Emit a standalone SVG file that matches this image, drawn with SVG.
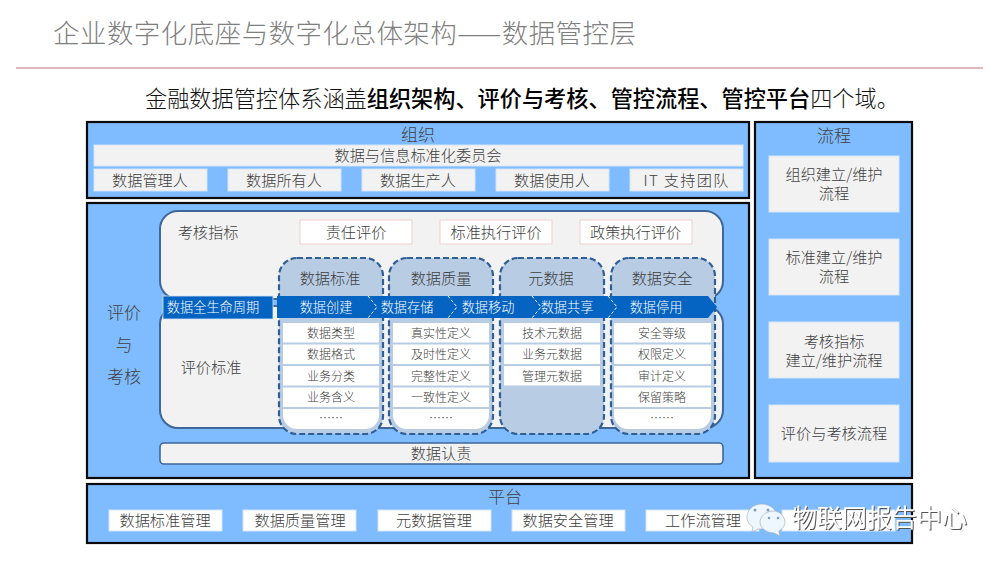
<svg xmlns="http://www.w3.org/2000/svg" width="1000" height="562" viewBox="0 0 1000 562">
<style>
text{font-family:"Noto Sans CJK SC","Noto Sans",sans-serif;text-anchor:middle;dominant-baseline:central;fill:#404040;font-weight:300}
.outer{fill:#7fbcff;stroke:#0a0a0a;stroke-width:2.2}
.bar{fill:#f2f2f2;stroke:#d4e4f7;stroke-width:1}
.panel{fill:#f2f2f2;stroke:#3f6797;stroke-width:2}
.col{fill:#b8cce4;stroke:#2f5f95;stroke-width:2.2;stroke-dasharray:6 3}
.crit{fill:#fff;stroke:#f1d5d5;stroke-width:1.2}
.cell{fill:#fff}
.plat{fill:#fff;stroke:#d4e4f7;stroke-width:1}
.s15{font-size:17px}.s14{font-size:15.200px}.s13{font-size:13.200px}.s12{font-size:12px}
.w{fill:#fff}
.chev{fill:none;stroke:#fff;stroke-width:1;stroke-dasharray:3 2}
.mark{font-size:25px;fill:#fff;font-weight:400;filter:drop-shadow(1px 1px 0 #555)}
</style>
<g id="title">
<text x="53" y="31.500" style="text-anchor:start;font-size:26.5px;fill:#7f7f7f" textLength="583" lengthAdjust="spacing">企业数字化底座与数字化总体架构——数据管控层</text>
<line x1="16" y1="68" x2="983" y2="68" stroke="#d8a0a6" stroke-width="1.6"/>
</g>
<g id="subtitle">
<text x="145" y="96.500" style="text-anchor:start;font-size:22.180px;fill:#111">金融数据管控体系涵盖<tspan style="font-weight:500;fill:#000">组织架构、评价与考核、管控流程、管控平台</tspan>四个域。</text>
</g>
<g id="org">
<rect class="outer" x="87" y="122" width="662" height="76"/>
<text class="s15" x="418" y="133">组织</text>
<rect class="bar" x="94" y="145" width="649" height="21"/>
<text class="s14" x="418" y="154">数据与信息标准化委员会</text>
<rect class="bar" x="94" y="169" width="113" height="22"/><text class="s14" x="150" y="179">数据管理人</text>
<rect class="bar" x="228" y="169" width="113" height="22"/><text class="s14" x="284" y="179">数据所有人</text>
<rect class="bar" x="362" y="169" width="113" height="22"/><text class="s14" x="418" y="179">数据生产人</text>
<rect class="bar" x="496" y="169" width="113" height="22"/><text class="s14" x="552" y="179">数据使用人</text>
<rect class="bar" x="630" y="169" width="113" height="22"/><text class="s14" x="686" y="179" textLength="85" lengthAdjust="spacing">IT 支持团队</text>
</g>
<g id="evaluation">
<rect class="outer" x="87" y="203" width="662" height="275"/>
<text x="124" y="311" style="font-size:17px">评价</text>
<text x="124" y="343" style="font-size:17px">与</text>
<text x="124" y="375" style="font-size:17px">考核</text>
<rect class="panel" x="160" y="211" width="563" height="88" rx="18"/>
<rect class="panel" x="160" y="306" width="563" height="122" rx="18"/>
<text class="s14" x="208" y="231">考核指标</text>
<text class="s14" x="211" y="366">评价标准</text>
<rect class="crit" x="300" y="220" width="112" height="24"/><text class="s14" x="356" y="231">责任评价</text>
<rect class="crit" x="440" y="220" width="112" height="24"/><text class="s14" x="496" y="231">标准执行评价</text>
<rect class="crit" x="580" y="220" width="112" height="24"/><text class="s14" x="635.500" y="231">政策执行评价</text>
<rect class="bar" x="160" y="443" width="563" height="21" rx="4" style="stroke:#3f6797;stroke-width:1.6"/>
<text class="s14" x="441" y="452">数据认责</text>
</g>
<g id="col-standard">
<rect class="col" x="279" y="258" width="104" height="176" rx="18"/>
<text class="s14" x="330" y="277">数据标准</text>
<path class="cell" d="M283 409h96v6a14 14 0 0 1-14 14h-68a14 14 0 0 1-14-14z"/>
<rect class="cell" x="283" y="323" width="96" height="19.500"/><text class="s12" x="331" y="332">数据类型</text>
<rect class="cell" x="283" y="344.500" width="96" height="19.500"/><text class="s12" x="331" y="353">数据格式</text>
<rect class="cell" x="283" y="366" width="96" height="19.500"/><text class="s12" x="331" y="375">业务分类</text>
<rect class="cell" x="283" y="387.500" width="96" height="19.500"/><text class="s12" x="331" y="396">业务含义</text>
<text class="s12" x="331" y="417">……</text>
</g>
<g id="col-quality">
<rect class="col" x="389" y="258" width="104" height="176" rx="18"/>
<text class="s14" x="441" y="277">数据质量</text>
<path class="cell" d="M393 409h96v6a14 14 0 0 1-14 14h-68a14 14 0 0 1-14-14z"/>
<rect class="cell" x="393" y="323" width="96" height="19.500"/><text class="s12" x="441" y="332">真实性定义</text>
<rect class="cell" x="393" y="344.500" width="96" height="19.500"/><text class="s12" x="441" y="353">及时性定义</text>
<rect class="cell" x="393" y="366" width="96" height="19.500"/><text class="s12" x="441" y="375">完整性定义</text>
<rect class="cell" x="393" y="387.500" width="96" height="19.500"/><text class="s12" x="441" y="396">一致性定义</text>
<text class="s12" x="441" y="417">……</text>
</g>
<g id="col-meta">
<rect class="col" x="500" y="258" width="104" height="176" rx="18"/>
<text class="s14" x="551" y="277">元数据</text>
<rect class="cell" x="504" y="323" width="96" height="19.500"/><text class="s12" x="552" y="332">技术元数据</text>
<rect class="cell" x="504" y="344.500" width="96" height="19.500"/><text class="s12" x="552" y="353">业务元数据</text>
<rect class="cell" x="504" y="366" width="96" height="19.500"/><text class="s12" x="552" y="375">管理元数据</text>
</g>
<g id="col-security">
<rect class="col" x="611" y="258" width="104" height="176" rx="18"/>
<text class="s14" x="662" y="277">数据安全</text>
<path class="cell" d="M614 409h97v6a14 14 0 0 1-14 14h-69a14 14 0 0 1-14-14z"/>
<rect class="cell" x="614" y="323" width="97" height="19.500"/><text class="s12" x="662" y="332">安全等级</text>
<rect class="cell" x="614" y="344.500" width="97" height="19.500"/><text class="s12" x="662" y="353">权限定义</text>
<rect class="cell" x="614" y="366" width="97" height="19.500"/><text class="s12" x="662" y="375">审计定义</text>
<rect class="cell" x="614" y="387.500" width="97" height="19.500"/><text class="s12" x="662" y="396">保留策略</text>
<text class="s12" x="662" y="417">……</text>
</g>
<g id="lifecycle">
<rect x="163" y="296" width="110" height="23" fill="#0563c1" stroke="#d4e4f7" stroke-width="0.800"/>
<text class="s13 w" x="213" y="306">数据全生命周期</text>
<path d="M277 296H708L717 307 708 318H277z" fill="#0563c1"/>
<path class="chev" d="M368 296l9 11-9 11M448 296l9 11-9 11M532 296l9 11-9 11M608 296l9 11-9 11"/>
<text class="s13 w" x="326" y="306">数据创建</text>
<text class="s13 w" x="407" y="306">数据存储</text>
<text class="s13 w" x="488" y="306">数据移动</text>
<text class="s13 w" x="567" y="306">数据共享</text>
<text class="s13 w" x="656" y="306">数据停用</text>
</g>
<g id="process">
<rect class="outer" x="755" y="122" width="157" height="356"/>
<text class="s15" x="834" y="134">流程</text>
<rect class="bar" x="769" y="156" width="130" height="56"/>
<text class="s14" y="173"><tspan x="834">组织建立/维护</tspan><tspan x="834" dy="19">流程</tspan></text>
<rect class="bar" x="769" y="239" width="130" height="56"/>
<text class="s14" y="256"><tspan x="834">标准建立/维护</tspan><tspan x="834" dy="19">流程</tspan></text>
<rect class="bar" x="769" y="322" width="130" height="56"/>
<text class="s14" y="340"><tspan x="834">考核指标</tspan><tspan x="834" dy="19">建立/维护流程</tspan></text>
<rect class="bar" x="769" y="405" width="130" height="57"/>
<text class="s14" x="834" y="432">评价与考核流程</text>
</g>
<g id="platform">
<rect class="outer" x="87" y="484" width="825" height="59"/>
<text class="s15" x="505" y="495">平台</text>
<rect class="plat" x="109" y="510" width="113" height="21"/><text class="s14" x="165" y="519">数据标准管理</text>
<rect class="plat" x="243" y="510" width="113" height="21"/><text class="s14" x="300" y="519">数据质量管理</text>
<rect class="plat" x="378" y="510" width="113" height="21"/><text class="s14" x="434" y="519">元数据管理</text>
<rect class="plat" x="512" y="510" width="113" height="21"/><text class="s14" x="568" y="519">数据安全管理</text>
<rect class="plat" x="646" y="510" width="113" height="21"/><text class="s14" x="703" y="519">工作流管理</text>
<rect class="plat" x="782" y="510" width="113" height="21"/>
</g>
<g id="watermark">
<path d="M762 504c-10 0-15 7-15 13 0 4 2 8 6 10l-1 5 6-3 8 0 12-10c0-8-7-15-16-15z" fill="#eef6ff" stroke="#9aa7b5" stroke-width="0.600"/>
<path d="M774 511c-9 0-14 6-14 11s5 11 14 11l6 3-1-5c3-2 6-5 6-9 0-5-5-11-11-11z" fill="#eef6ff" stroke="#9aa7b5" stroke-width="0.600"/>
<circle cx="755" cy="510" r="1.500" fill="#7f9fc0"/><circle cx="768" cy="510" r="1.500" fill="#7f9fc0"/>
<circle cx="769" cy="518" r="1.300" fill="#7f9fc0"/><circle cx="778" cy="518" r="1.300" fill="#7f9fc0"/>
<text class="mark" x="879.500" y="516">物联网报告中心</text>
</g>
</svg>
